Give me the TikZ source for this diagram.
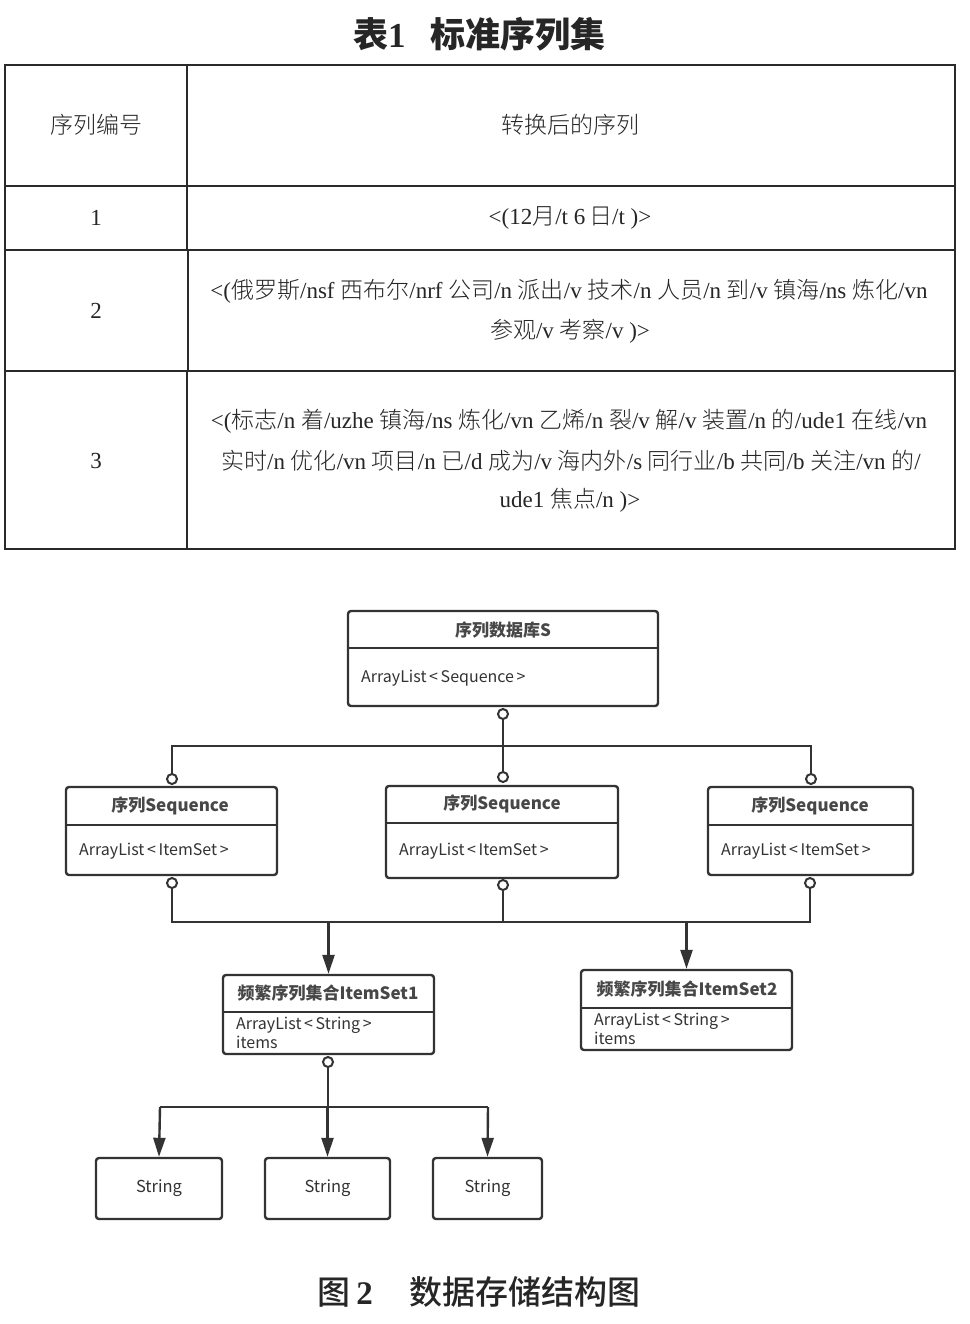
\documentclass[tikz,border=0pt]{standalone}
\usepackage{fontspec}
\setmainfont{Liberation Serif}
\newfontfamily\cjk{Noto Sans CJK SC}
\newfontfamily\cjkl{Noto Sans CJK SC Light}
\newfontfamily\cjkm{Noto Sans CJK SC Medium}
\usetikzlibrary{arrows.meta}
\newcommand\zh[1]{{\cjkl #1}}
\newcommand\lt{\,<\,}
\newcommand\gt{\,>}
\definecolor{ink}{HTML}{333333}
\definecolor{tline}{HTML}{2A2A2A}
\tikzset{
  tbltext/.style={font=\fontsize{23}{27}\selectfont, text=black!85, inner sep=0pt},
  umlbox/.style={draw=ink, line width=2.4pt, rounded corners=3pt, inner sep=0pt},
  umltitle/.style={font=\cjk\bfseries\fontsize{17}{20}\selectfont, text=ink!90, inner sep=0pt},
  umlbody/.style={font=\cjk\fontsize{16}{20}\selectfont, text=ink, inner sep=0pt, anchor=west, align=left},
  port/.style={circle, draw=ink, line width=2pt, fill=white, minimum size=10pt, inner sep=0pt},
  conn/.style={draw=ink, line width=2.4pt},
  arr/.style={conn, -{Triangle[length=19pt, width=12pt]}},
}
\begin{document}
\begin{tikzpicture}[x=1pt, y=-1pt]
\useasboundingbox[fill=white] (0,0) rectangle (969,1324);

% ---------------- Table title
\node[font=\cjk\bfseries\fontsize{35}{40}\selectfont, text=black!85] (ttl) at (479,34)
  {表{\rmfamily\bfseries 1}\hspace{0.7em}标准序列集};

% ---------------- Table
\draw[tline, line width=1.4pt] (5,65) rectangle (955,549);
\draw[tline, line width=1.4pt] (5,186) -- (955,186);
\draw[tline, line width=1.4pt] (5,250) -- (955,250);
\draw[tline, line width=1.4pt] (5,371) -- (955,371);
\draw[tline, line width=1.4pt] (187,65) -- (187,250);
\draw[tline, line width=1.4pt] (188,250) -- (188,371);
\draw[tline, line width=1.4pt] (187,371) -- (187,549);

\node[tbltext] (h1) at (96,125) {\zh{序列编号}};
\node[tbltext] (h2) at (570,125) {\zh{转换后的序列}};
\node[tbltext] (n1) at (96,218) {1};
\node[tbltext] (r1) at (570,218) {<(12\zh{月}/t 6\,\zh{日}/t )>};
\node[tbltext] (n2) at (96,311) {2};
\node[tbltext] (r2a) at (569,291) {<(\zh{俄罗斯}/nsf \zh{西布尔}/nrf \zh{公司}/n \zh{派出}/v \zh{技术}/n \zh{人员}/n \zh{到}/v \zh{镇海}/ns \zh{炼化}/vn};
\node[tbltext] (r2b) at (570,331) {\zh{参观}/v \zh{考察}/v )>};
\node[tbltext] (n3) at (96,461) {3};
\node[tbltext] (r3a) at (569,421) {<(\zh{标志}/n \zh{着}/uzhe \zh{镇海}/ns \zh{炼化}/vn \zh{乙烯}/n \zh{裂}/v \zh{解}/v \zh{装置}/n \zh{的}/ude1 \zh{在线}/vn};
\node[tbltext] (r3b) at (571,461) {\zh{实时}/n \zh{优化}/vn \zh{项目}/n \zh{已}/d \zh{成为}/v \zh{海内外}/s \zh{同行业}/b \zh{共同}/b \zh{关注}/vn \zh{的}/};
\node[tbltext] (r3c) at (570,500) {ude1 \zh{焦点}/n )>};

% ---------------- Diagram boxes
% S
\node[umlbox, minimum width=310pt, minimum height=95pt] (S) at (503,658.5) {};
\draw[conn] (S.west |- 0,648) -- (S.east |- 0,648);
\node[umltitle] (St) at (503,630) {序列数据库S};
\node[umlbody] (Sb) at (361,678) {ArrayList\lt Sequence\gt};

% Sequence boxes
\node[umlbox, minimum width=211pt, minimum height=88pt] (Q1) at (171.5,831) {};
\draw[conn] (66,825) -- (277,825);
\node[umltitle] (Q1t) at (170,806) {序列Sequence};
\node[umlbody] (Q1b) at (79,851) {ArrayList\lt ItemSet\gt};

\node[umlbox, minimum width=232pt, minimum height=92pt] (Q2) at (502,832) {};
\draw[conn] (386,823) -- (618,823);
\node[umltitle] (Q2t) at (502,804) {序列Sequence};
\node[umlbody] (Q2b) at (399,851) {ArrayList\lt ItemSet\gt};

\node[umlbox, minimum width=205pt, minimum height=88pt] (Q3) at (810.5,831) {};
\draw[conn] (708,825) -- (913,825);
\node[umltitle] (Q3t) at (810,806) {序列Sequence};
\node[umlbody] (Q3b) at (721,851) {ArrayList\lt ItemSet\gt};

% ItemSets
\node[umlbox, minimum width=211pt, minimum height=79pt] (I1) at (328.5,1014.5) {};
\draw[conn] (223,1012) -- (434,1012);
\node[umltitle] (I1t) at (328,993) {频繁序列集合ItemSet1};
\node[umlbody] (I1b) at (236,1033) {ArrayList\lt String\gt\\[-1pt]items};

\node[umlbox, minimum width=211pt, minimum height=80pt] (I2) at (686.5,1010) {};
\draw[conn] (581,1008) -- (792,1008);
\node[umltitle] (I2t) at (687,989) {频繁序列集合ItemSet2};
\node[umlbody] (I2b) at (594,1029) {ArrayList\lt String\gt\\[-1pt]items};

% Strings
\node[umlbox, minimum width=126pt, minimum height=61pt, font=\cjk\fontsize{16.5}{20}\selectfont, text=ink] (T1) at (159,1188.5) {String};
\node[umlbox, minimum width=125pt, minimum height=61pt, font=\cjk\fontsize{16.5}{20}\selectfont, text=ink] (T2) at (327.5,1188.5) {String};
\node[umlbox, minimum width=109pt, minimum height=61pt, font=\cjk\fontsize{16.5}{20}\selectfont, text=ink] (T3) at (487.5,1188.5) {String};

% ---------------- Ports
\node[port] (pS) at (503,714) {};
\node[port] (p1) at (172,779) {};
\node[port] (p2) at (503,777) {};
\node[port] (p3) at (811,779) {};
\node[port] (q1) at (172,883) {};
\node[port] (q2) at (503,885) {};
\node[port] (q3) at (810,883) {};
\node[port] (pI) at (328,1062) {};

% bus coordinates
\coordinate (bL) at (172,746);
\coordinate (bR) at (811,746);
\coordinate (cL) at (172,922);
\coordinate (cR) at (810,922);
\coordinate (dL) at (160,1107);
\coordinate (dR) at (488,1107);

% ---------------- Connectors
\draw[conn] (pS.south) -- (p2.north);
\draw[conn] (p1.north) -- (bL) -- (bR) -- (p3.north);
\draw[conn] (q1.south) -- (cL) -- (cR) -- (q3.south);
\draw[conn] (q2.south) -- (q2 |- cL);
\draw[arr] (I1.north |- cL) -- (I1.north);
\draw[arr] (I2.north |- cL) -- (I2.north);
\draw[conn] (pI.south) -- (pI |- dL);
\draw[conn] (dL) -- (dR);
\draw[arr] (dL) -- (T1.north);
\draw[arr] (T2.north |- dL) -- (T2.north);
\draw[arr] (dR) -- (T3.north);

% ---------------- Caption
\node[font=\cjkm\fontsize{33}{38}\selectfont, text=black!85] (cap) at (479,1292)
  {图{\rmfamily\bfseries\,2}\hspace{1.1em}数据存储结构图};
\end{tikzpicture}
\end{document}
